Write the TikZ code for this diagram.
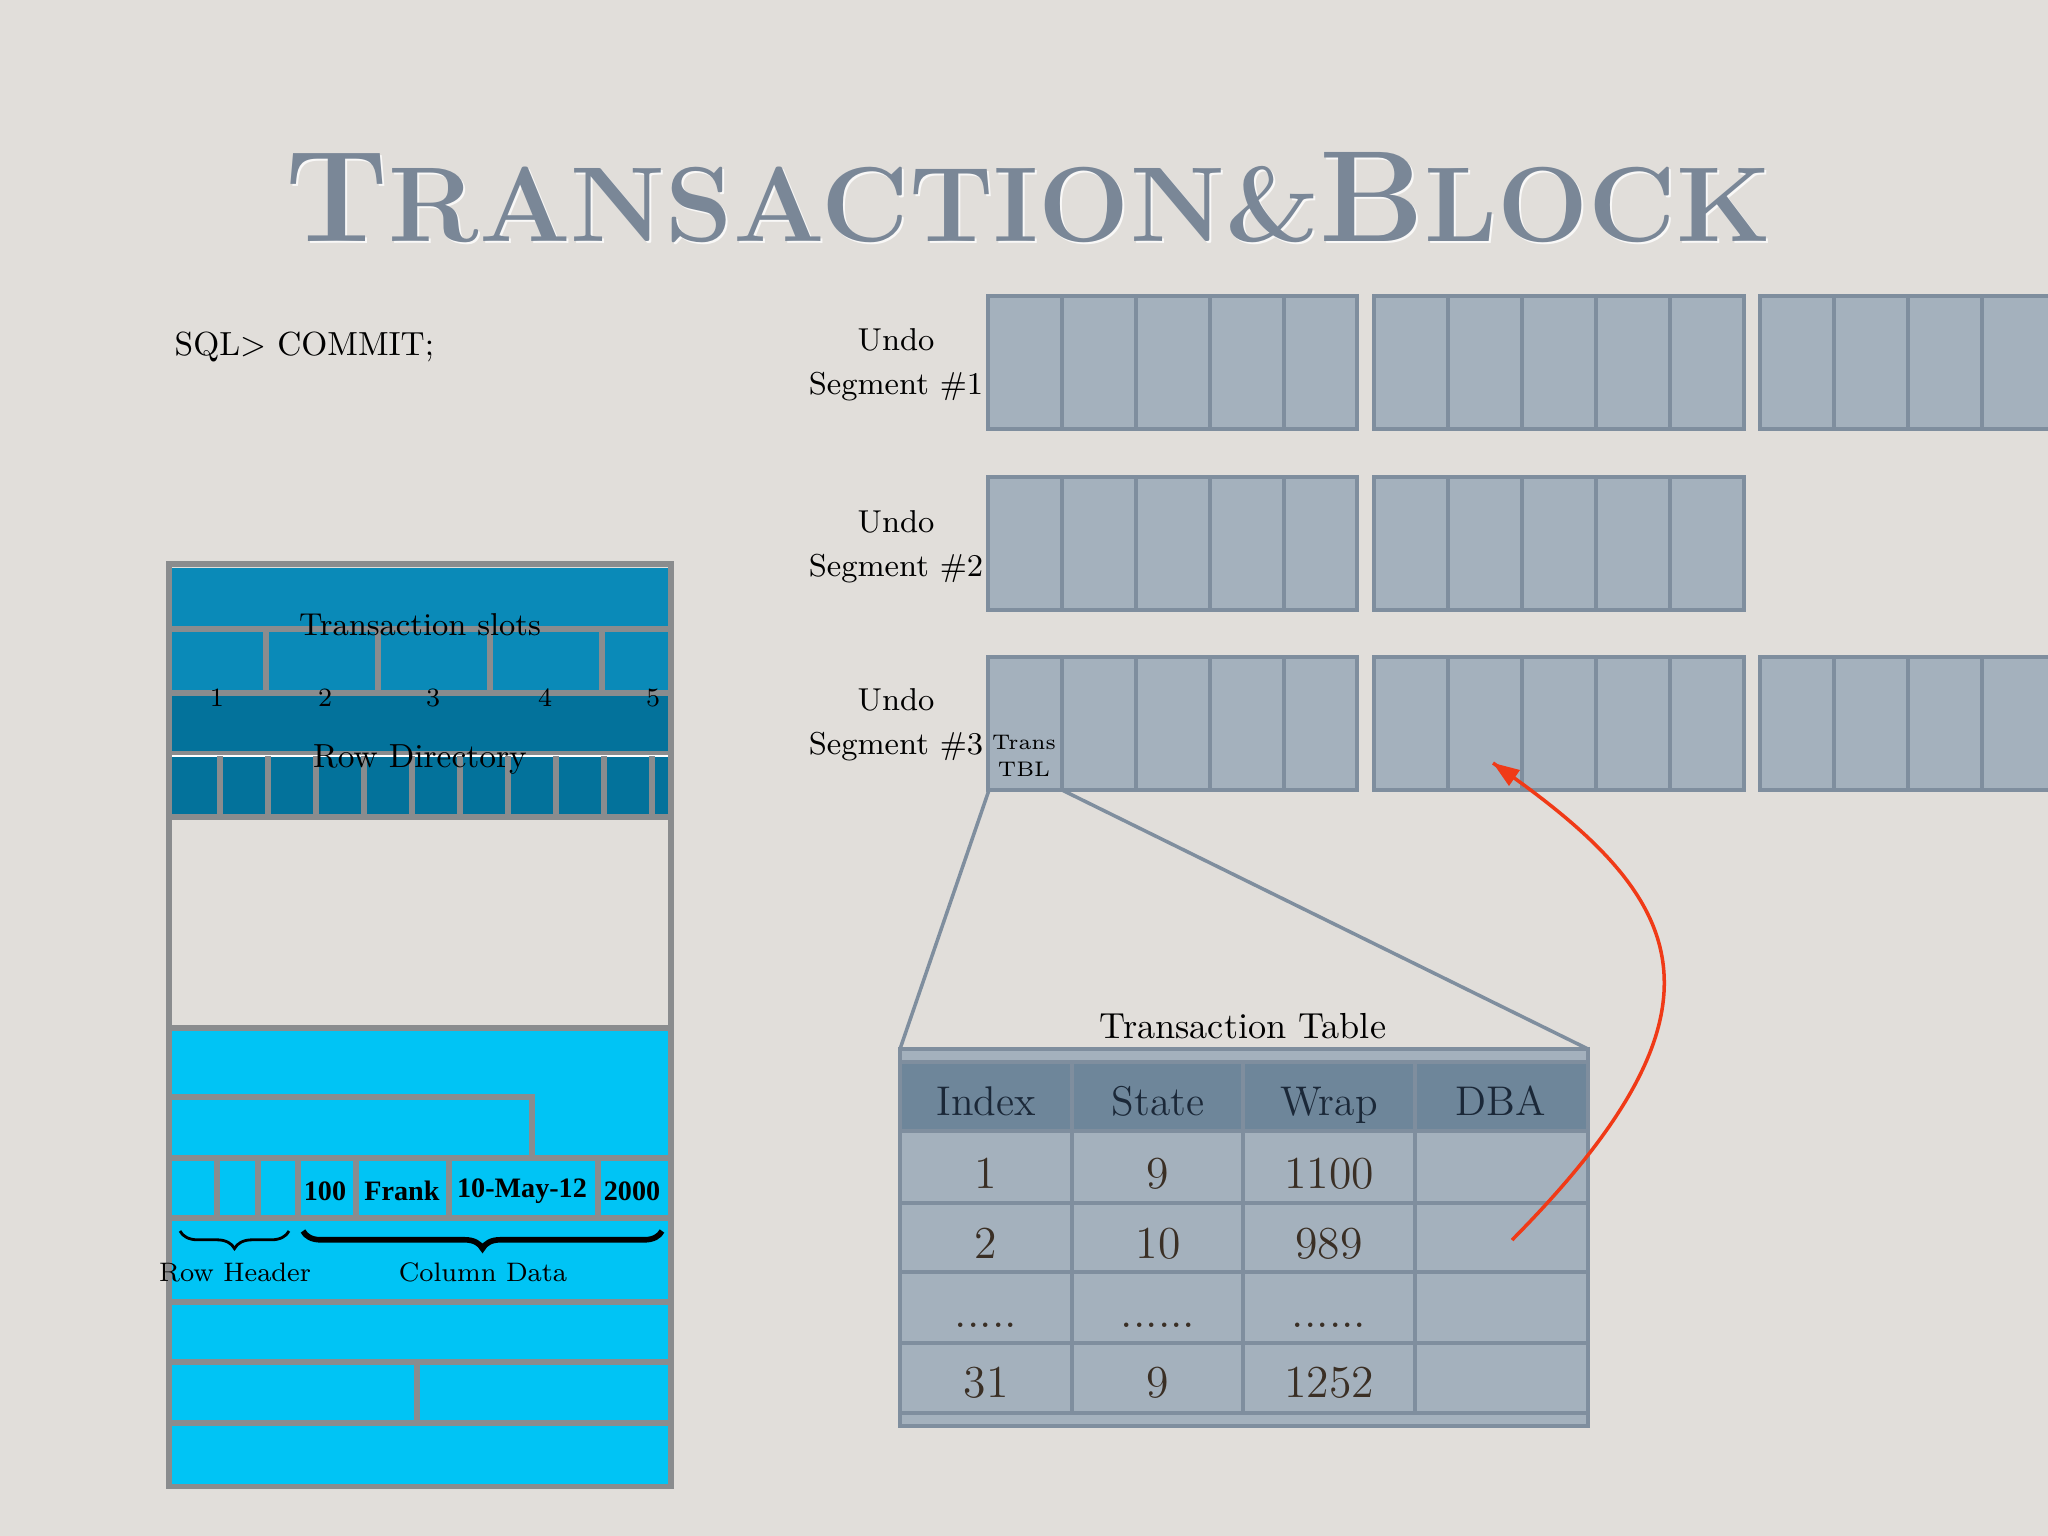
\documentclass[tikz,border=0pt]{standalone}
\usepackage{tikz}
\usepackage{graphicx}
\usepackage{fontspec}
\newfontfamily\rowvalfont{Liberation Serif}
\usetikzlibrary{decorations.pathreplacing}
\definecolor{paper}{HTML}{E1DEDA}
\definecolor{titlegray}{HTML}{7A8797}
\definecolor{slotblue}{HTML}{0A8AB8}
\definecolor{dirblue}{HTML}{03729B}
\definecolor{rowcyan}{HTML}{00C4F5}
\definecolor{framegray}{HTML}{8A8C8E}
\definecolor{undofill}{HTML}{A4B1BD}
\definecolor{undoline}{HTML}{7F8E9E}
\definecolor{hdrfill}{HTML}{6E869A}
\definecolor{hdrtext}{HTML}{1B2838}
\definecolor{celltext}{HTML}{3A2F25}
\definecolor{arrowred}{HTML}{F03A17}

\begin{document}
\begin{tikzpicture}[x=0.01cm,y=-0.01cm]
		\tikzstyle{every node}+=[inner sep=0pt]
		\tikzstyle{undoblk}=[draw=undoline,fill=undofill,line width=1.3pt]
		\tikzstyle{tblline}=[draw=undoline,line width=1.3pt]
		\tikzstyle{slotline}=[draw=framegray,line width=1.5pt]
		\tikzstyle{seglabel}=[align=center,font=\fontsize{9}{12.5}\selectfont]
		\tikzstyle{slotnum}=[font=\fontsize{7.5}{9}\selectfont]
		\tikzstyle{rowval}=[font=\rowvalfont\bfseries\fontsize{8}{9}\selectfont]
		\tikzstyle{bracelbl}=[font=\fontsize{7.6}{9}\selectfont]
		\tikzstyle{hdr}=[anchor=base,text=hdrtext,font=\fontsize{11.8}{14}\selectfont]
		\tikzstyle{cell}=[anchor=base,text=celltext,font=\fontsize{13}{15}\selectfont]
		\fill [paper] (0,0) rectangle (2048,1536);
		\useasboundingbox (0,0) rectangle (2048,1536);
		\node [anchor=base west,text=white,opacity=0.8] (titleshadow) at (287,243) {\resizebox{14.85cm}{0.89cm}{\bfseries\fontsize{20}{20}\selectfont T\fontsize{16.4}{16}\selectfont RANSACTION\&\fontsize{20}{20}\selectfont B\fontsize{16.4}{16}\selectfont LOCK}};
		\node [anchor=base west,text=titlegray] (title) at (285,241) {\resizebox{14.85cm}{0.89cm}{\bfseries\fontsize{20}{20}\selectfont T\fontsize{16.4}{16}\selectfont RANSACTION\&\fontsize{20}{20}\selectfont B\fontsize{16.4}{16}\selectfont LOCK}};
		\node [anchor=west,font=\fontsize{9.5}{11}\selectfont] (sql) at (174,347) {SQL> COMMIT;};
		\draw [framegray,line width=1.7pt,fill=paper] (169,564) rectangle (671,1486);
		\fill [slotblue] (172,568) rectangle (668,692);
		\fill [dirblue] (172,692) rectangle (668,816);
		\draw [slotline] (172,629) -- (668,629);
		\draw [slotline] (266,629) -- (266,692) (378,629) -- (378,692) (490,629) -- (490,692) (602,629) -- (602,692);
		\draw [slotline] (172,693) -- (668,693);
		\draw [slotline] (172,754) -- (668,754);
		\draw [white,line width=0.5pt] (172,756) -- (668,756);
		\draw [slotline] (220,756) -- (220,816) (268,756) -- (268,816) (316,756) -- (316,816) (364,756) -- (364,816) (412,756) -- (412,816);
		\draw [slotline] (460,756) -- (460,816) (508,756) -- (508,816) (556,756) -- (556,816) (604,756) -- (604,816) (652,756) -- (652,816);
		\draw [slotline] (172,817) -- (668,817);
		\node [font=\fontsize{9}{11}\selectfont] (slots) at (420,625) {Transaction slots};
		\node [slotnum] (slot1) at (217,698) {1};
		\node [slotnum] (slot2) at (325,698) {2};
		\node [slotnum] (slot3) at (433,698) {3};
		\node [slotnum] (slot4) at (545,698) {4};
		\node [slotnum] (slot5) at (653,698) {5};
		\node [font=\fontsize{9.5}{11}\selectfont] (rowdir) at (420,760) {Row Directory};
		\fill [rowcyan] (172,1029) rectangle (668,1484);
		\draw [slotline] (172,1028) -- (668,1028);
		\draw [slotline] (172,1097) -- (532,1097) -- (532,1158);
		\draw [slotline] (172,1158) -- (668,1158);
		\draw [slotline] (217,1158) -- (217,1218) (258,1158) -- (258,1218) (298,1158) -- (298,1218) (356,1158) -- (356,1218) (449,1158) -- (449,1218) (598,1158) -- (598,1218);
		\draw [slotline] (172,1218) -- (668,1218);
		\draw [slotline] (172,1302) -- (668,1302);
		\draw [slotline] (172,1362) -- (668,1362);
		\draw [slotline] (417,1362) -- (417,1423);
		\draw [slotline] (172,1423) -- (668,1423);
		\node [rowval] (v100) at (325,1191) {100};
		\node [rowval] (vfrank) at (402,1191) {Frank};
		\node [rowval] (vdate) at (522,1191) {10-May-12};
		\node [rowval] (v2000) at (632,1191) {2000};
		\draw [decorate,decoration={brace,mirror,amplitude=5pt},line width=0.8pt] (180,1231) -- (289,1231);
		\draw [decorate,decoration={brace,mirror,amplitude=5pt},line width=1.6pt] (303,1231) -- (662,1231);
		\node [bracelbl] (rowhdr) at (235,1272) {Row Header};
		\node [bracelbl] (coldata) at (483,1272) {Column Data};
		\node [seglabel] (seg1) at (896,365) {Undo\\Segment \#1};
		\node [seglabel] (seg2) at (896,547) {Undo\\Segment \#2};
		\node [seglabel] (seg3) at (896,725) {Undo\\Segment \#3};
		\draw [undoblk] (988,296) rectangle (1357,429) (1062,296) -- (1062,429) (1136,296) -- (1136,429) (1210,296) -- (1210,429) (1284,296) -- (1284,429);
		\draw [undoblk] (1374,296) rectangle (1744,429) (1448,296) -- (1448,429) (1522,296) -- (1522,429) (1596,296) -- (1596,429) (1670,296) -- (1670,429);
		\draw [undoblk] (1760,296) rectangle (2129,429) (1834,296) -- (1834,429) (1908,296) -- (1908,429) (1982,296) -- (1982,429) (2056,296) -- (2056,429);
		\draw [undoblk] (988,477) rectangle (1357,610) (1062,477) -- (1062,610) (1136,477) -- (1136,610) (1210,477) -- (1210,610) (1284,477) -- (1284,610);
		\draw [undoblk] (1374,477) rectangle (1744,610) (1448,477) -- (1448,610) (1522,477) -- (1522,610) (1596,477) -- (1596,610) (1670,477) -- (1670,610);
		\draw [undoblk] (988,657) rectangle (1357,790) (1062,657) -- (1062,790) (1136,657) -- (1136,790) (1210,657) -- (1210,790) (1284,657) -- (1284,790);
		\draw [undoblk] (1374,657) rectangle (1744,790) (1448,657) -- (1448,790) (1522,657) -- (1522,790) (1596,657) -- (1596,790) (1670,657) -- (1670,790);
		\draw [undoblk] (1760,657) rectangle (2129,790) (1834,657) -- (1834,790) (1908,657) -- (1908,790) (1982,657) -- (1982,790) (2056,657) -- (2056,790);
		\node [align=center,font=\fontsize{6}{7.7}\selectfont] (transtbl) at (1024,756) {Trans\\TBL};
		\coordinate (tblsw) at (989,790);
		\coordinate (tblse) at (1062,790);
		\coordinate (ttnw) at (900,1049);
		\coordinate (ttne) at (1588,1049);
		\draw [undoline,line width=1pt] (tblsw) -- (ttnw);
		\draw [undoline,line width=1pt] (tblse) -- (ttne);
		\node [font=\fontsize{10.3}{12}\selectfont] (tttitle) at (1243,1026) {Transaction Table};
		\draw [undoline,fill=undofill,line width=1.4pt] (ttnw) rectangle (1588,1426);
		\fill [hdrfill] (902,1062) rectangle (1586,1131);
		\draw [tblline] (900,1062) -- (1588,1062);
		\draw [tblline] (900,1131) -- (1588,1131) (900,1203) -- (1588,1203) (900,1272) -- (1588,1272) (900,1343) -- (1588,1343) (900,1413) -- (1588,1413);
		\draw [tblline] (1072,1062) -- (1072,1413) (1243,1062) -- (1243,1413) (1415,1062) -- (1415,1413);
		\node [hdr] (hidx) at (986,1115) {Index};
		\node [hdr] (hstate) at (1158,1115) {State};
		\node [hdr] (hwrap) at (1329,1115) {Wrap};
		\node [hdr] (hdba) at (1501,1115) {DBA};
		\node [cell] (idx1) at (986,1188) {1};
		\node [cell] (st1) at (1158,1188) {9};
		\node [cell] (wr1) at (1329,1188) {1100};
		\node [cell] (idx2) at (986,1258) {2};
		\node [cell] (st2) at (1158,1258) {10};
		\node [cell] (wr2) at (1329,1258) {989};
		\node [cell] (idx3) at (986,1327) {.....};
		\node [cell] (st3) at (1158,1327) {......};
		\node [cell] (wr3) at (1329,1327) {......};
		\node [cell] (idx4) at (986,1397) {31};
		\node [cell] (st4) at (1158,1397) {9};
		\node [cell] (wr4) at (1329,1397) {1252};
		\coordinate (dbaptr) at (1512,1240);
		\coordinate (undoptr) at (1493,763);
		\draw [arrowred,line width=1pt] (dbaptr) .. controls (1750,1000) and (1682,894) .. (undoptr);
		\fill [arrowred] (undoptr) -- (1509,786) -- (1520,770);
	\end{tikzpicture}
\end{document}
